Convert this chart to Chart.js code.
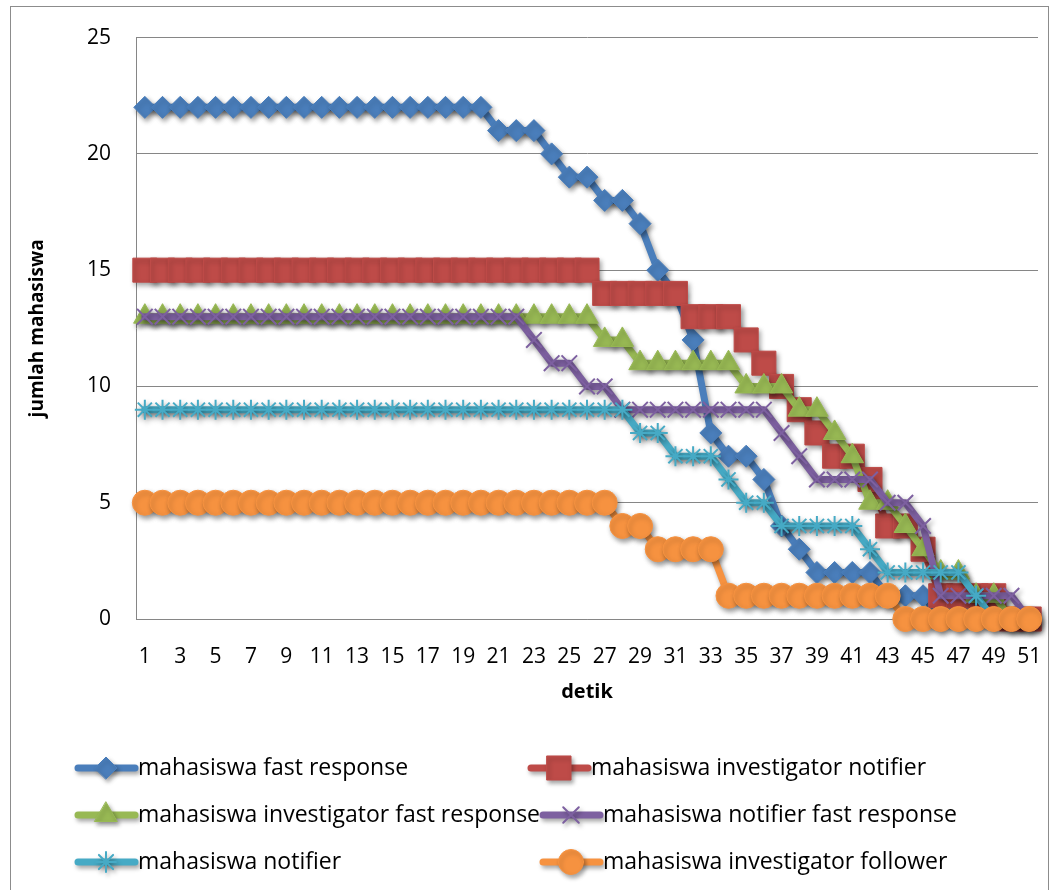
<!DOCTYPE html>
<html>
<head>
<meta charset="utf-8">
<script src="https://cdn.jsdelivr.net/npm/chart.js@4.4.1/dist/chart.umd.min.js"></script>
<style>
  html, body { margin: 0; padding: 0; background: #ffffff; }
  #wrap { width: 1059px; height: 890px; }
</style>
</head>
<body>
<div id="wrap"><canvas id="grafikMahasiswa" width="1059" height="890"></canvas></div>
<script>
// sumbu x: detik
const detik = ['1', '2', '3', '4', '5', '6', '7', '8', '9', '10',
    '11', '12', '13', '14', '15', '16', '17', '18', '19', '20',
    '21', '22', '23', '24', '25', '26', '27', '28', '29', '30',
    '31', '32', '33', '34', '35', '36', '37', '38', '39', '40',
    '41', '42', '43', '44', '45', '46', '47', '48', '49', '50', '51'];

// jumlah mahasiswa per detik
const fastResponse = [22, 22, 22, 22, 22, 22, 22, 22, 22, 22,
    22, 22, 22, 22, 22, 22, 22, 22, 22, 22,
    21, 21, 21, 20, 19, 19, 18, 18, 17, 15,
    14, 12, 8, 7, 7, 6, 4, 3, 2, 2,
    2, 2, 1, 1, 1, 0, 0, 0, 0, 0, 0];

const investigatorNotifier = [15, 15, 15, 15, 15, 15, 15, 15, 15, 15,
    15, 15, 15, 15, 15, 15, 15, 15, 15, 15,
    15, 15, 15, 15, 15, 15, 14, 14, 14, 14,
    14, 13, 13, 13, 12, 11, 10, 9, 8, 7,
    7, 6, 4, 4, 3, 1, 1, 1, 1, 0, 0];

const investigatorFastResponse = [13, 13, 13, 13, 13, 13, 13, 13, 13, 13,
    13, 13, 13, 13, 13, 13, 13, 13, 13, 13,
    13, 13, 13, 13, 13, 13, 12, 12, 11, 11,
    11, 11, 11, 11, 10, 10, 10, 9, 9, 8,
    7, 5, 5, 4, 3, 2, 2, 1, 1, 0, 0];

const notifierFastResponse = [13, 13, 13, 13, 13, 13, 13, 13, 13, 13,
    13, 13, 13, 13, 13, 13, 13, 13, 13, 13,
    13, 13, 12, 11, 11, 10, 10, 9, 9, 9,
    9, 9, 9, 9, 9, 9, 8, 7, 6, 6,
    6, 6, 5, 5, 4, 1, 1, 1, 1, 1, 0];

const notifier = [9, 9, 9, 9, 9, 9, 9, 9, 9, 9,
    9, 9, 9, 9, 9, 9, 9, 9, 9, 9,
    9, 9, 9, 9, 9, 9, 9, 9, 8, 8,
    7, 7, 7, 6, 5, 5, 4, 4, 4, 4,
    4, 3, 2, 2, 2, 2, 2, 1, 0, 0, 0];

const investigatorFollower = [5, 5, 5, 5, 5, 5, 5, 5, 5, 5,
    5, 5, 5, 5, 5, 5, 5, 5, 5, 5,
    5, 5, 5, 5, 5, 5, 5, 4, 4, 3,
    3, 3, 3, 1, 1, 1, 1, 1, 1, 1,
    1, 1, 1, 0, 0, 0, 0, 0, 0, 0, 0];

const namaSeri = [
    'mahasiswa fast response',
    'mahasiswa investigator notifier',
    'mahasiswa investigator fast response',
    'mahasiswa notifier fast response',
    'mahasiswa notifier',
    'mahasiswa investigator follower'
];

const FONT = "'Open Sans', 'Liberation Sans', sans-serif";

// gaya tiap seri (warna bawaan Excel 2010)
const gayaSeri = [
    { color: '#4A7EBB', point: 'rectRot', radius: 11, pw: 1 },
    { color: '#BE4B48', point: 'rect', radius: 17, pw: 1 },
    { color: '#98B954', point: 'triangle', radius: 13, pw: 1 },
    { color: '#7D60A0', point: 'crossRot', radius: 11, pw: 2 },
    { color: '#46AAC5', point: 'star', radius: 10, pw: 2 },
    { color: '#F69240', point: 'circle', radius: 12.5, pw: 1 }
];

const dataSeri = [fastResponse, investigatorNotifier, investigatorFastResponse,
    notifierFastResponse, notifier, investigatorFollower];

const datasets = dataSeri.map((values, i) => ({
    label: namaSeri[i],
    data: values,
    borderColor: gayaSeri[i].color,
    backgroundColor: gayaSeri[i].color,
    borderWidth: 7,
    borderJoinStyle: 'round',
    borderCapStyle: 'round',
    tension: 0,
    pointStyle: gayaSeri[i].point,
    pointRadius: gayaSeri[i].radius,
    pointHoverRadius: gayaSeri[i].radius,
    pointBorderWidth: gayaSeri[i].pw,
    pointBorderColor: gayaSeri[i].color,
    pointBackgroundColor: gayaSeri[i].color,
    clip: false,
    order: dataSeri.length - i   // seri terakhir digambar paling atas, seperti Excel
}));

// bayangan halus seperti efek Excel
const bayangan = {
    id: 'bayangan',
    beforeDatasetsDraw(chart) {
        const ctx = chart.ctx;
        ctx.save();
        ctx.shadowColor = 'rgba(0,0,0,0.4)';
        ctx.shadowBlur = 5;
        ctx.shadowOffsetX = 2;
        ctx.shadowOffsetY = 3;
    },
    afterDatasetsDraw(chart) {
        chart.ctx.restore();
    }
};

// bingkai luar grafik
const bingkai = {
    id: 'bingkai',
    beforeDraw(chart) {
        const ctx = chart.ctx;
        ctx.save();
        ctx.fillStyle = '#ffffff';
        ctx.fillRect(0, 0, chart.width, chart.height);
        ctx.strokeStyle = '#8c8c8c';
        ctx.lineWidth = 1;
        ctx.strokeRect(10.5, 6.5, 1038, 900);
        ctx.restore();
    }
};

// legenda dua kolom (garis + penanda), digambar sendiri
const legendaDuaKolom = {
    id: 'legendaDuaKolom',
    afterDraw(chart) {
        const ctx = chart.ctx;
        const slot = [[75, 768], [528, 768], [75, 815], [540, 815], [75, 862], [540, 862]];
        ctx.save();
        chart.data.datasets.forEach((ds, i) => {
            const [x, y] = slot[i];
            const g = gayaSeri[i];
            ctx.save();
            ctx.shadowColor = 'rgba(0,0,0,0.35)';
            ctx.shadowBlur = 4;
            ctx.shadowOffsetX = 2;
            ctx.shadowOffsetY = 3;
            ctx.strokeStyle = g.color;
            ctx.lineWidth = 7;
            ctx.lineCap = 'round';
            ctx.beginPath();
            ctx.moveTo(x + 3, y);
            ctx.lineTo(x + 60, y);
            ctx.stroke();
            ctx.fillStyle = g.color;
            ctx.lineWidth = g.pw;
            Chart.helpers.drawPoint(ctx, {
                pointStyle: g.point, radius: g.radius, rotation: 0, borderWidth: g.pw
            }, x + 31, y);
            ctx.restore();

            ctx.fillStyle = '#000000';
            ctx.font = '23px ' + FONT;
            ctx.textBaseline = 'middle';
            ctx.textAlign = 'left';
            ctx.fillText(ds.label, x + 63, y);
        });
        ctx.restore();
    }
};

new Chart(document.getElementById('grafikMahasiswa'), {
    type: 'line',
    data: {
        labels: detik,
        datasets: datasets
    },
    options: {
        responsive: false,
        animation: false,
        devicePixelRatio: 1,
        layout: {
            padding: { left: 10, right: 21, top: 35, bottom: 180 }
        },
        plugins: {
            legend: { display: false },
            tooltip: { enabled: false }
        },
        scales: {
            x: {
                offset: true,
                grid: { display: false, drawTicks: false, offset: true },
                border: { display: true, color: '#868686', width: 1 },
                ticks: {
                    autoSkip: false,
                    maxRotation: 0,
                    minRotation: 0,
                    padding: 25,
                    color: '#000000',
                    font: { family: FONT, size: 21 },
                    callback: function(val, idx) {
                        return idx % 2 === 0 ? this.getLabelForValue(val) : '';
                    }
                },
                title: {
                    display: true,
                    text: 'detik',
                    color: '#000000',
                    font: { family: FONT, size: 20, weight: 'bold' },
                    padding: { top: 0, bottom: 6 }
                },
                afterFit: (scale) => {
                    scale.height = 91;
                    // area plot sampai tepi kanan, seperti Excel
                    scale.paddingLeft = 0;
                    scale.paddingRight = 0;
                }
            },
            y: {
                min: 0,
                max: 25,
                ticks: {
                    stepSize: 5,
                    padding: 25,
                    color: '#000000',
                    font: { family: FONT, size: 21 }
                },
                grid: { color: '#868686', lineWidth: 1, drawTicks: false },
                border: { display: true, color: '#868686', width: 1 },
                title: {
                    display: true,
                    text: 'jumlah mahasiswa',
                    color: '#000000',
                    font: { family: FONT, size: 19, weight: 'bold' },
                    padding: { top: 16, bottom: 0 }
                },
                afterFit: (scale) => { scale.width = 126; }
            }
        }
    },
    plugins: [bingkai, bayangan, legendaDuaKolom]
});
</script>
</body>
</html>
